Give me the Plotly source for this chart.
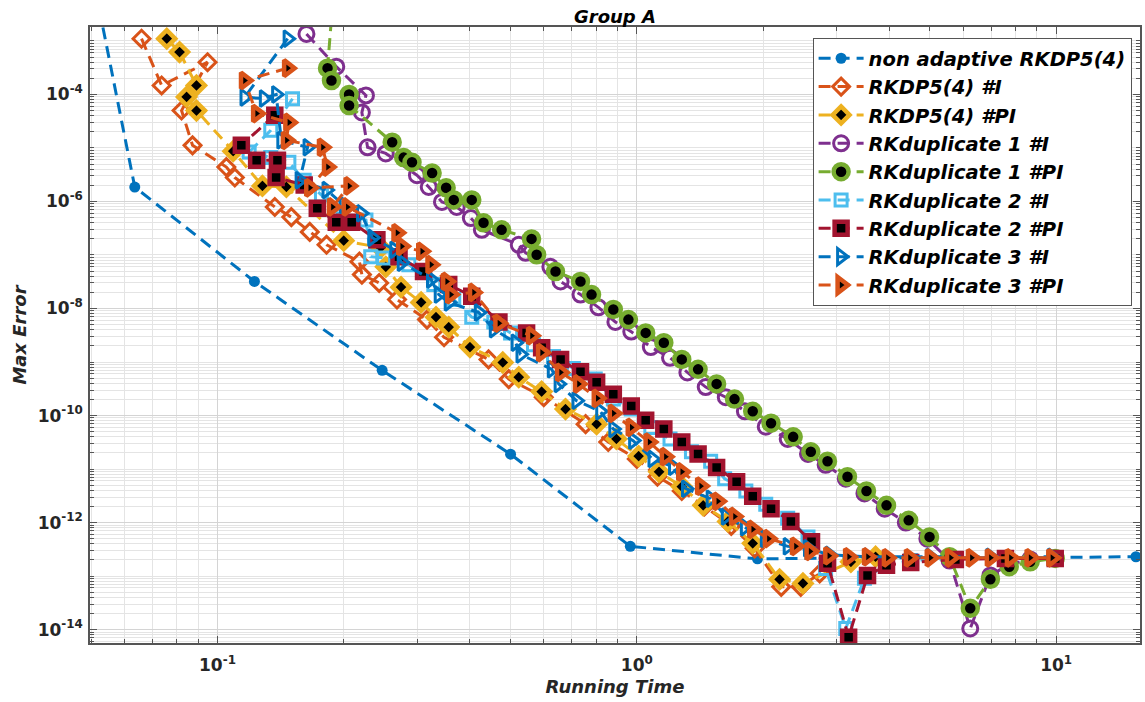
import plotly.graph_objects as go

# ---------------- data (running time [s], max error) ----------------
t_nonadapt = [0.032, 0.0635, 0.1225, 0.247, 0.50, 0.965, 1.94, 3.9, 7.8, 15.5]
e_nonadapt = [9e5, 1.86e-6, 3.2e-8, 7.0e-10, 1.9e-11, 3.6e-13, 2.1e-13, 2.2e-13, 2.2e-13, 2.3e-13]

t_dp_i = [0.0659, 0.0736, 0.0947, 0.0821, 0.0872, 0.105, 0.110, 0.137, 0.150, 0.166, 0.182,
          0.218, 0.221, 0.243, 0.268, 0.316, 0.347, 0.443, 0.495, 0.600, 0.755, 0.855, 1.00,
          1.12, 1.28, 1.45, 1.68, 1.91, 2.21, 2.46, 2.73]
e_dp_i = [1.1e-3, 1.47e-4, 4.0e-4, 5.0e-5, 1.12e-5, 4.4e-6, 2.8e-6, 7.9e-7, 5.1e-7, 2.7e-7, 1.55e-7,
          7.5e-8, 4.3e-8, 3.0e-8, 1.47e-8, 6.2e-9, 2.9e-9, 1.12e-9, 4.8e-10, 2.2e-10, 6.9e-11, 3.2e-11, 1.55e-11,
          7.2e-12, 3.9e-12, 2.0e-12, 8.7e-13, 3.3e-13, 6.3e-14, 6.3e-14, 1.12e-13]

t_dp_pi = [0.0757, 0.0812, 0.0891, 0.0844, 0.0891, 0.109, 0.128, 0.146, 0.200, 0.245, 0.252,
           0.274, 0.306, 0.332, 0.356, 0.400, 0.479, 0.523, 0.593, 0.676, 0.802, 0.894, 1.01,
           1.13, 1.28, 1.44, 1.65, 1.89, 2.19, 2.49, 3.24, 3.71]
e_dp_pi = [1.1e-3, 6.2e-4, 1.47e-4, 9.0e-5, 5.0e-5, 8.7e-6, 1.95e-6, 1.87e-6, 1.85e-7, 1.37e-7, 6.0e-8,
           2.5e-8, 1.3e-8, 6.9e-9, 4.5e-9, 1.9e-9, 9.8e-10, 5.2e-10, 2.8e-10, 1.32e-10, 6.9e-11, 3.66e-11, 1.75e-11,
           8.9e-12, 4.7e-12, 2.1e-12, 1.05e-12, 4.1e-13, 8.7e-14, 7.3e-14, 1.85e-13, 2.3e-13]

t_d1_i = [0.163, 0.192, 0.226, 0.221, 0.228, 0.252, 0.299, 0.319, 0.343, 0.372, 0.402, 0.427,
          0.523, 0.543, 0.622, 0.658, 0.734, 0.81, 0.889, 0.97, 1.08, 1.20, 1.32, 1.46, 1.63,
          1.81, 2.03, 2.29, 2.56, 2.82, 3.15, 3.49, 3.90, 4.38, 4.93, 5.57, 6.24, 6.97, 7.73, 8.67, 9.95]
e_d1_i = [1.35e-3, 3.3e-4, 9.6e-5, 4.6e-5, 1.03e-5, 7.9e-6, 3.1e-6, 1.87e-6, 9.8e-7, 7.9e-7, 4.9e-7, 2.95e-7,
          1.55e-7, 1.1e-7, 6.0e-8, 3.2e-8, 1.82e-8, 1.05e-8, 5.6e-9, 3.7e-9, 1.9e-9, 1.2e-9, 6.4e-10, 3.4e-10, 2.2e-10,
          1.2e-10, 6.2e-11, 3.66e-11, 1.92e-11, 1.2e-11, 6.6e-12, 3.5e-12, 1.82e-12, 1.0e-12, 5.0e-13, 1.95e-13,
          1.05e-14, 1.03e-13, 1.65e-13, 2.05e-13, 2.14e-13]

t_d1_pi = [0.19, 0.183, 0.187, 0.206, 0.206, 0.261, 0.278, 0.291, 0.325, 0.351, 0.366, 0.404, 0.431,
           0.476, 0.561, 0.577, 0.640, 0.734, 0.780, 0.879, 0.955, 1.05, 1.16, 1.28, 1.40, 1.55, 1.71,
           1.89, 2.09, 2.36, 2.60, 2.85, 3.18, 3.53, 3.94, 4.45, 4.99, 5.57, 6.24, 6.97, 7.73, 8.67, 9.95]
e_d1_pi = [1.3e-2, 3.1e-4, 1.82e-4, 1.0e-4, 6.2e-5, 1.28e-5, 6.6e-6, 5.4e-6, 3.4e-6, 1.8e-6, 1.07e-6, 1.07e-6, 4.0e-7,
           2.95e-7, 2.0e-7, 1.01e-7, 4.9e-8, 3.2e-8, 1.82e-8, 9.6e-9, 6.2e-9, 3.5e-9, 2.3e-9, 1.12e-9, 7.3e-10, 3.9e-10,
           2.03e-10, 1.2e-10, 7.2e-11, 4.0e-11, 2.1e-11, 1.4e-11, 7.2e-12, 3.9e-12, 2.1e-12, 1.1e-12, 5.4e-13, 2.3e-13,
           2.5e-14, 8.7e-14, 1.5e-13, 1.85e-13, 2.14e-13]

t_d2_i = [0.151, 0.134, 0.119, 0.134, 0.148, 0.161, 0.177, 0.195, 0.226, 0.232, 0.249, 0.286, 0.328,
          0.366, 0.404, 0.456, 0.50, 0.567, 0.633, 0.706, 0.796, 0.879, 0.97, 1.08, 1.20, 1.35, 1.50,
          1.62, 1.82, 2.03, 2.29, 2.56, 2.82, 3.15, 3.49, 3.94, 4.50, 5.75, 7.57, 9.95]
e_d2_i = [8.3e-5, 2.14e-5, 8.4e-6, 6.6e-6, 5.4e-6, 2.5e-6, 1.32e-6, 5.6e-7, 4.5e-7, 9.3e-8, 8.8e-8, 6.6e-8, 2.8e-8,
          1.47e-8, 6.9e-9, 5.6e-9, 3.5e-9, 2.1e-9, 1.27e-9, 7.6e-10, 4.8e-10, 2.03e-10, 1.32e-10, 6.0e-11, 3.66e-11,
          2.1e-11, 1.4e-11, 6.6e-12, 3.9e-12, 2.2e-12, 1.2e-12, 5.4e-13, 1.39e-13, 1.05e-14, 9.1e-14, 1.6e-13,
          1.95e-13, 2.14e-13, 2.2e-13, 2.2e-13]

t_d2_pi = [0.137, 0.114, 0.124, 0.139, 0.138, 0.161, 0.173, 0.192, 0.209, 0.240, 0.271, 0.310, 0.356,
           0.404, 0.469, 0.546, 0.593, 0.658, 0.734, 0.802, 0.879, 0.97, 1.05, 1.16, 1.28, 1.40, 1.55,
           1.73, 1.89, 2.09, 2.33, 2.61, 2.85, 3.20, 3.55, 3.94, 4.50, 5.75, 7.57, 9.95]
e_d2_pi = [4.1e-5, 1.12e-5, 5.9e-6, 5.9e-6, 2.8e-6, 2.03e-6, 7.5e-7, 4.1e-7, 4.1e-7, 1.92e-7, 9.3e-8, 4.9e-8, 2.8e-8,
           1.7e-8, 5.6e-9, 3.5e-9, 1.85e-9, 1.12e-9, 6.6e-10, 4.2e-10, 2.5e-10, 1.5e-10, 8.2e-11, 5.6e-11, 3.2e-11,
           1.92e-11, 1.07e-11, 5.8e-12, 3.1e-12, 1.82e-12, 1.05e-12, 4.4e-13, 1.73e-13, 7.2e-15, 1.03e-13, 1.6e-13,
           1.8e-13, 2.05e-13, 2.14e-13, 2.14e-13]

t_d3_i = [0.147, 0.116, 0.129, 0.138, 0.142, 0.164, 0.157, 0.182, 0.200, 0.220, 0.234, 0.264, 0.275,
          0.323, 0.337, 0.356, 0.420, 0.456, 0.514, 0.528, 0.627, 0.651, 0.718, 0.818, 0.879, 0.98,
          1.09, 1.22, 1.31, 1.50, 1.63, 1.81, 2.02, 2.29, 2.56, 2.88, 3.55, 5.01, 6.97, 9.77]
e_d3_i = [1.1e-3, 8.8e-5, 8.4e-5, 1.0e-4, 1.39e-5, 1.03e-5, 2.5e-6, 1.64e-6, 8.6e-7, 6.0e-7, 2.1e-7, 1.25e-7, 7.2e-8,
          3.5e-8, 1.82e-8, 1.3e-8, 8.4e-9, 4.1e-9, 2.3e-9, 1.39e-9, 7.3e-10, 3.9e-10, 1.9e-10, 1.2e-10, 5.6e-11,
          3.4e-11, 1.55e-11, 1.1e-11, 4.3e-12, 2.8e-12, 1.3e-12, 8.2e-13, 5.0e-13, 3.6e-13, 3.3e-13, 2.5e-13,
          2.3e-13, 2.3e-13, 2.3e-13, 2.3e-13]

t_d3_pi = [0.147, 0.116, 0.124, 0.148, 0.146, 0.178, 0.183, 0.166, 0.206, 0.188, 0.204, 0.268, 0.275,
           0.307, 0.323, 0.352, 0.360, 0.408, 0.469, 0.561, 0.593, 0.658, 0.726, 0.805, 0.879, 0.97,
           1.07, 1.17, 1.28, 1.42, 1.56, 1.71, 1.89, 2.06, 2.39, 2.59, 2.87, 3.20, 3.55, 3.96, 4.47,
           5.01, 5.60, 6.28, 6.97, 7.78, 8.67, 9.77]
e_d3_pi = [3.1e-4, 1.82e-4, 4.4e-5, 3.0e-5, 1.39e-5, 1.03e-5, 4.4e-6, 1.8e-6, 1.95e-6, 7.9e-7, 7.9e-7, 2.6e-7, 1.45e-7,
           1.17e-7, 6.6e-8, 3.2e-8, 1.82e-8, 2.0e-8, 5.3e-9, 3.1e-9, 1.5e-9, 6.4e-10, 3.9e-10, 2.1e-10, 1.1e-10,
           6.0e-11, 3.2e-11, 1.7e-11, 8.9e-12, 4.8e-12, 2.5e-12, 1.3e-12, 7.5e-13, 5.0e-13, 3.6e-13, 2.9e-13,
           2.4e-13, 2.3e-13, 2.3e-13, 2.2e-13, 2.2e-13, 2.2e-13, 2.2e-13, 2.2e-13, 2.2e-13, 2.2e-13, 2.2e-13, 2.2e-13]

names = ["non adaptive RKDP5(4)", "RKDP5(4) #I", "RKDP5(4) #PI",
         "RKduplicate 1 #I", "RKduplicate 1 #PI",
         "RKduplicate 2 #I", "RKduplicate 2 #PI",
         "RKduplicate 3 #I", "RKduplicate 3 #PI"]
times = [t_nonadapt, t_dp_i, t_dp_pi, t_d1_i, t_d1_pi, t_d2_i, t_d2_pi, t_d3_i, t_d3_pi]
errors = [e_nonadapt, e_dp_i, e_dp_pi, e_d1_i, e_d1_pi, e_d2_i, e_d2_pi, e_d3_i, e_d3_pi]

x_tickvals = [0.1, 1, 10]
x_ticktext = ["10<sup>-1</sup>", "10<sup>0</sup>", "10<sup>1</sup>"]
y_tickvals = [1e-14, 1e-12, 1e-10, 1e-8, 1e-6, 1e-4]
y_ticktext = ["10<sup>-14</sup>", "10<sup>-12</sup>", "10<sup>-10</sup>",
              "10<sup>-8</sup>", "10<sup>-6</sup>", "10<sup>-4</sup>"]

# ---------------- styles ----------------
BLUE, ORANGE, YELLOW = "#0072BD", "#D95319", "#EDB120"
PURPLE, GREEN, CYAN, RED = "#7E2F8E", "#77AC30", "#4DBEEE", "#A2142F"
styles = [
    dict(color=BLUE, symbol="circle", size=11, fill=BLUE, lw=0),
    dict(color=ORANGE, symbol="diamond-open", size=13, fill=ORANGE, lw=3),
    dict(color=YELLOW, symbol="diamond", size=13, fill="black", lw=4.5),
    dict(color=PURPLE, symbol="circle-open", size=15, fill=PURPLE, lw=3),
    dict(color=GREEN, symbol="circle", size=15, fill="black", lw=4.5),
    dict(color=CYAN, symbol="square-open", size=12, fill=CYAN, lw=3),
    dict(color=RED, symbol="square", size=13, fill="black", lw=4.5),
    dict(color=BLUE, symbol="triangle-right-open", size=14, fill=BLUE, lw=3),
    dict(color=ORANGE, symbol="triangle-right", size=14, fill="black", lw=4.5),
]

FONT = "DejaVu Sans"
fig = go.Figure()
for name, t, e, st in zip(names, times, errors, styles):
    fig.add_trace(go.Scatter(
        x=t, y=e, name=name, mode="lines+markers",
        line=dict(color=st["color"], width=3, dash="12px,7px"),
        marker=dict(symbol=st["symbol"], size=st["size"], color=st["fill"],
                    line=dict(color=st["color"], width=st["lw"])),
    ))

x_minor = [k * 10.0 ** p for p in (-2, -1, 0, 1) for k in range(2, 10)]
y_minor = [k * 10.0 ** p for p in range(-15, -2) for k in range(1, 10)]

axis_common = dict(
    type="log", showline=True, linecolor="#555555", linewidth=1.5, mirror="allticks",
    ticks="inside", ticklen=7, tickcolor="#555555", tickwidth=1,
    showgrid=True, gridcolor="#d4d4d4", gridwidth=1, zeroline=False,
    tickfont=dict(family=FONT, size=17, color="#262626", weight="bold"),
)

fig.update_layout(
    width=1145, height=702,
    margin=dict(l=90, r=3, t=27, b=59),
    paper_bgcolor="white", plot_bgcolor="white",
    title=dict(text="Group A", x=0.5, xref="paper", xanchor="center",
               y=1 - 17 / 702, yref="container", yanchor="middle",
               font=dict(family=FONT, size=18, color="black", weight="bold", style="italic")),
    xaxis=dict(axis_common, range=[-1.304, 1.2], tickmode="array",
               tickvals=x_tickvals, ticktext=x_ticktext, ticklabelstandoff=6,
               minor=dict(tickmode="array", tickvals=x_minor, ticks="inside", ticklen=4,
                          tickcolor="#555555", showgrid=True, gridcolor="#e4e4e4"),
               title=dict(text="Running Time", standoff=6,
                          font=dict(family=FONT, size=18, color="#262626", weight="bold", style="italic"))),
    yaxis=dict(axis_common, range=[-14.25, -2.74], tickmode="array",
               tickvals=y_tickvals, ticktext=y_ticktext, ticklabelstandoff=2,
               minor=dict(tickmode="array", tickvals=y_minor, ticks="inside", ticklen=4,
                          tickcolor="#555555", showgrid=True, gridcolor="#e4e4e4"),
               title=dict(text="Max Error", standoff=6,
                          font=dict(family=FONT, size=18, color="#262626", weight="bold", style="italic"))),
    legend=dict(x=0.992, xanchor="right", y=0.982, yanchor="top",
                bgcolor="white", bordercolor="#555555", borderwidth=1,
                font=dict(family=FONT, size=19.5, color="black", weight="bold", style="italic"),
                itemwidth=45, tracegroupgap=0),
    showlegend=True,
)

fig.write_html("out.html")
